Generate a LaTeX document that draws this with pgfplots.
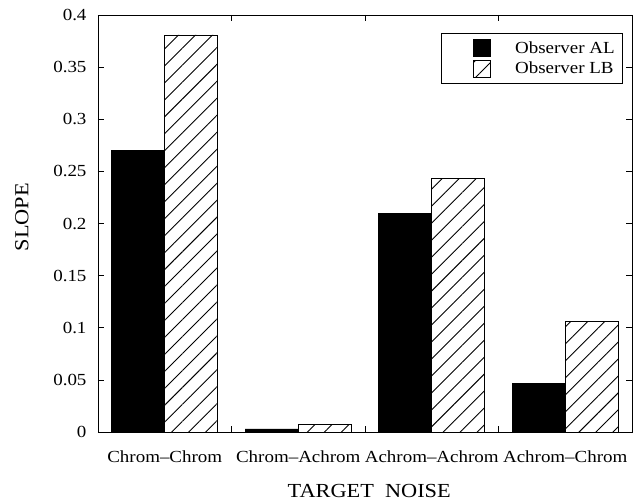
\documentclass[border=0pt]{standalone}
\usepackage{fontspec}
\setmainfont{Liberation Serif}[FakeStretch=1.12]
\usepackage{pgfplots}
\pgfplotsset{compat=1.18}
\usetikzlibrary{patterns.meta,calc}

% slope per target/noise condition
\pgfplotstableread{
x  AL     LB
1  0.270  0.381
2  0.003  0.007
3  0.210  0.243
4  0.047  0.106
}\slopes

\pgfplotsset{
  squarelegend/.style={
    legend image code/.code={
      \path[draw=none,fill=none,pattern=none] (0bp,0bp) -- (66bp,0bp);
      \draw[##1,draw=black,line width=0.6bp] (30bp,-8.5bp) rectangle (47bp,8.5bp);
    }
  }
}

\begin{document}
\begin{tikzpicture}
\begin{axis}[
  name=ax,
  scale only axis,
  width=534bp, height=417bp,
  xmin=0.5, xmax=4.5,
  ymin=0, ymax=0.4,
  ybar=0pt, bar width=53bp,
  axis line style={line width=0.8bp},
  xtick={1,2,3,4},
  xticklabels={Chrom--Chrom, Chrom--Achrom, Achrom--Achrom, Achrom--Chrom},
  major x tick style={draw=none},
  minor xtick={1.5,2.5,3.5},
  ytick={0,0.05,...,0.4},
  yticklabel style={/pgf/number format/fixed, /pgf/number format/precision=2, xshift=-8bp},
  /pgf/number format/assume math mode=true,
  tick align=inside,
  tick pos=both,
  major tick length=6bp, minor tick length=6bp,
  tick style={black, line width=0.6bp},
  ticklabel style={font=\fontsize{17}{20}\selectfont},
  xticklabel style={yshift=-15bp},
  xlabel={TARGET\ \ NOISE},
  ylabel={SLOPE},
  label style={font=\fontsize{20}{24}\selectfont},
  xlabel style={at={(axis description cs:0.508,0)}, anchor=center, yshift=-59bp},
  ylabel style={at={(axis description cs:-0.1424,0.515)}, anchor=center},
  legend style={
    at={(rel axis cs:0.983,0.957)}, anchor=north east,
    draw=black, line width=0.6bp,
    font=\fontsize{17}{19}\selectfont,
    inner xsep=2bp, inner ysep=6bp,
    row sep=3bp,
    nodes={inner xsep=6bp, inner ysep=1bp},
  },
  legend cell align=left,
]
\addplot[fill=black, draw=black, line width=0.6bp, squarelegend] table[x=x, y=AL] {\slopes};
\addplot[draw=black, line width=0.6bp,
  pattern={Lines[angle=45,distance=12bp,line width=0.9bp]}, pattern color=black,
  squarelegend] table[x=x, y=LB] {\slopes};
\legend{Observer AL, Observer LB}
\end{axis}
\pgfresetboundingbox
\path ($(ax.south west)+(-98bp,-70bp)$) rectangle ($(ax.north east)+(1bp,15bp)$);
\end{tikzpicture}
\end{document}
